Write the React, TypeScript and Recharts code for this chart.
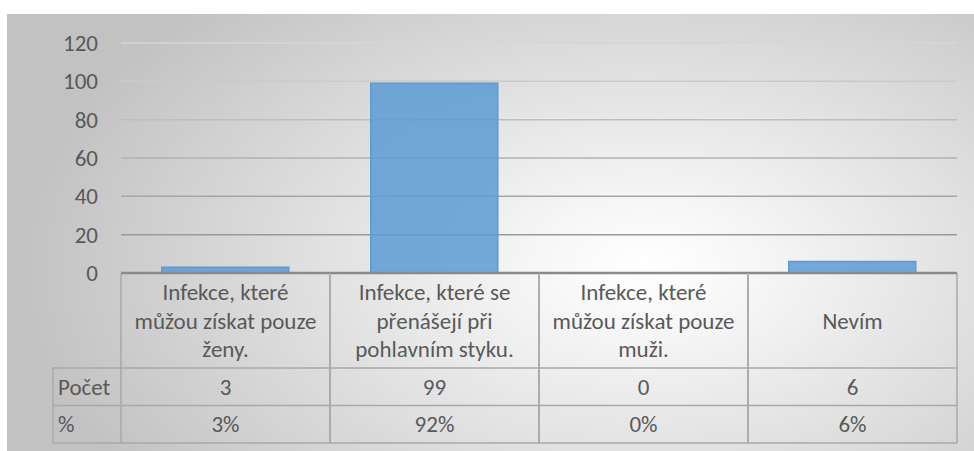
import React from 'react';
import { BarChart, Bar, XAxis, YAxis, CartesianGrid } from 'recharts';

const categories = [
  'Infekce, které\nmůžou získat pouze\nženy.',
  'Infekce, které se\npřenášejí při\npohlavním styku.',
  'Infekce, které\nmůžou získat pouze\nmuži.',
  'Nevím',
];
const counts = [3, 99, 0, 6];
const percents = ['3%', '92%', '0%', '6%'];
const rowLabels = ['Počet', '%'];
const yTicks = [0, 20, 40, 60, 80, 100, 120];

const data = categories.map((c, i) => ({ name: c, count: counts[i], pct: percents[i] }));

const W = 974;
const H = 451;
const PLOT_LEFT = 121;
const PLOT_RIGHT = 957;
const BAND = (PLOT_RIGHT - PLOT_LEFT) / categories.length;
const HEAD_H = 95;
const ROW_H = 37.5;
const LABEL_LEFT = 53;
const FONT = 'Carlito, Calibri, "Noto Sans", sans-serif';
const TXT = '#595959';
const LINE = '#a9a9a9';
const FS = 23;

const TableTick = (props: any) => {
  const { x, y, payload } = props;
  const i = payload.index;
  const left = x - BAND / 2;
  const right = x + BAND / 2;
  const r1 = y + HEAD_H;
  const r2 = r1 + ROW_H;
  const r3 = r2 + ROW_H;
  const lines = String(payload.value).split('\n');
  const mid = y + HEAD_H / 2;
  return (
    <g fontFamily={FONT} fontSize={FS} fill={TXT}>
      <line x1={left} y1={y} x2={left} y2={r3} stroke={LINE} strokeWidth={1.5} />
      <line x1={right} y1={y} x2={right} y2={r3} stroke={LINE} strokeWidth={1.5} />
      <line x1={left} y1={r1} x2={right} y2={r1} stroke={LINE} strokeWidth={1.5} />
      <line x1={left} y1={r2} x2={right} y2={r2} stroke={LINE} strokeWidth={1.5} />
      <line x1={left} y1={r3} x2={right} y2={r3} stroke={LINE} strokeWidth={1.5} />
      {lines.map((l, k) => (
        <text key={k} x={x} y={mid + (k - (lines.length - 1) / 2) * 28.5} textAnchor="middle" dominantBaseline="central">
          {l}
        </text>
      ))}
      <text x={x} y={r1 + ROW_H / 2} textAnchor="middle" dominantBaseline="central">{counts[i]}</text>
      <text x={x} y={r2 + ROW_H / 2} textAnchor="middle" dominantBaseline="central">{percents[i]}</text>
      {i === 0 && (
        <g>
          <line x1={LABEL_LEFT} y1={r1} x2={left} y2={r1} stroke={LINE} strokeWidth={1.5} />
          <line x1={LABEL_LEFT} y1={r2} x2={left} y2={r2} stroke={LINE} strokeWidth={1.5} />
          <line x1={LABEL_LEFT} y1={r3} x2={left} y2={r3} stroke={LINE} strokeWidth={1.5} />
          <line x1={LABEL_LEFT} y1={r1} x2={LABEL_LEFT} y2={r3} stroke={LINE} strokeWidth={1.5} />
          {rowLabels.map((lab, k) => (
            <text key={lab} x={LABEL_LEFT + 5} y={r1 + ROW_H * k + ROW_H / 2} textAnchor="start" dominantBaseline="central">
              {lab}
            </text>
          ))}
        </g>
      )}
    </g>
  );
};

export default function App() {
  return (
    <div style={{ position: 'absolute', left: 0, top: 0, width: W, height: H, background: '#fff' }}>
      <div
        style={{
          position: 'absolute',
          left: 7,
          top: 14,
          width: W - 7,
          height: H - 14,
          background: 'radial-gradient(ellipse 65% 85% at 66% 58%, #ffffff 0%, #f6f6f6 18%, #c2c2c2 100%)',
        }}
      />
      <BarChart
        width={W}
        height={H}
        data={data}
        margin={{ top: 43, right: W - PLOT_RIGHT, bottom: 7, left: 0 }}
        barCategoryGap="19.5%"
        style={{ position: 'absolute', left: 0, top: 0 }}
      >
        <defs>
          <linearGradient id="gridGrad" gradientUnits="userSpaceOnUse" x1="0" y1="43" x2="0" y2="273">
            <stop offset="0%" stopColor="#d6d6d6" />
            <stop offset="100%" stopColor="#8e8e8e" />
          </linearGradient>
        </defs>
        <CartesianGrid vertical={false} stroke="url(#gridGrad)" strokeWidth={1.5} />
        <YAxis
          width={PLOT_LEFT}
          domain={[0, 120]}
          ticks={yTicks}
          axisLine={false}
          tickLine={false}
          tickSize={0}
          tickMargin={23}
          tick={{ fill: TXT, fontSize: FS, fontFamily: FONT }}
        />
        <XAxis
          dataKey="name"
          height={171}
          axisLine={{ stroke: '#8a8a8a', strokeWidth: 2.5 }}
          tickLine={false}
          tickSize={0}
          tickMargin={0}
          interval={0}
          tick={<TableTick />}
        />
        <Bar dataKey="count" fill="#5b9bd5" fillOpacity={0.85} stroke="#5b9bd5" strokeWidth={1.5} isAnimationActive={false} />
      </BarChart>
    </div>
  );
}
